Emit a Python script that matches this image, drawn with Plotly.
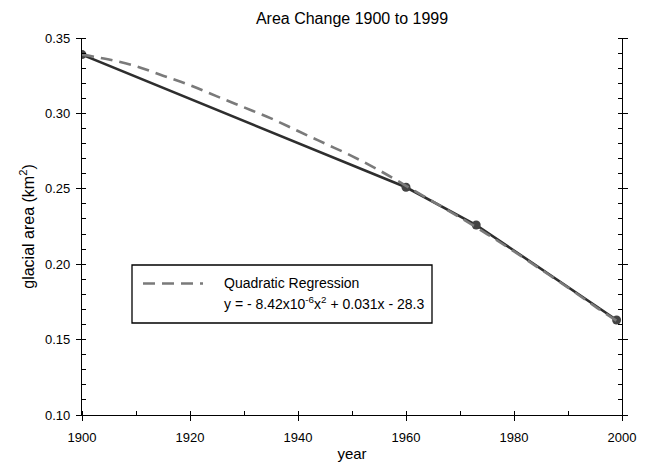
import plotly.graph_objects as go

# Observed data
years = [1900, 1960, 1973, 1999]
area = [0.339, 0.251, 0.226, 0.163]

# Quadratic regression curve
fit_years = [1900, 1905, 1910, 1915, 1920, 1925, 1930, 1935, 1940, 1945, 1950,
             1955, 1960, 1965, 1970, 1975, 1980, 1985, 1990, 1995, 1999]
fit_area = [0.339, 0.3357, 0.3313, 0.3250, 0.3187, 0.3113, 0.3040, 0.2967, 0.2883,
            0.2800, 0.2717, 0.2623, 0.2520, 0.2415, 0.2310, 0.2200, 0.2085, 0.1965,
            0.1845, 0.1720, 0.1625]

title_text = "Area Change 1900 to 1999"
x_title = "year"
y_title = "glacial area (km<sup>2</sup>)"
legend_line1 = "Quadratic Regression"
legend_line2 = "y = - 8.42x10<sup>-6</sup>x<sup>2</sup> + 0.031x - 28.3"

W, H = 647, 462
L, R, T, B = 82, 622, 38, 415

def px(x):
    return (x - L) / (R - L)

def py(y):
    return (B - y) / (B - T)

font_family = "Liberation Sans, Arial, sans-serif"

fig = go.Figure()
fig.add_trace(go.Scatter(x=years, y=area, mode="lines+markers",
                         line=dict(color="#2e2e2e", width=2.6),
                         marker=dict(color="#444444", size=9),
                         showlegend=False))
fig.add_trace(go.Scatter(x=fit_years, y=fit_area, mode="lines",
                         line=dict(color="#7a7a7a", width=2.6, dash="12px,7px", shape="spline"),
                         showlegend=False))

# Legend box (manual)
fig.add_shape(type="rect", xref="paper", yref="paper",
              x0=px(132), x1=px(432), y0=py(323), y1=py(265),
              line=dict(color="black", width=1.3), fillcolor="white", layer="above")
fig.add_shape(type="line", xref="paper", yref="paper",
              x0=px(143), x1=px(203), y0=py(283.5), y1=py(283.5),
              line=dict(color="#7a7a7a", width=2.6, dash="12px,7px"))
fig.add_annotation(xref="paper", yref="paper", x=px(222), y=py(283),
                   text=legend_line1, showarrow=False, xanchor="left", yanchor="middle",
                   font=dict(size=14, color="black", family=font_family))
fig.add_annotation(xref="paper", yref="paper", x=px(222), y=py(303),
                   text=legend_line2, showarrow=False, xanchor="left", yanchor="middle",
                   font=dict(size=14, color="black", family=font_family))

fig.update_layout(
    width=W, height=H,
    margin=dict(l=L, r=W - R, t=T, b=H - B),
    paper_bgcolor="white", plot_bgcolor="white",
    font=dict(family=font_family, color="black", size=13),
    title=dict(text=title_text, x=px(352), xref="paper", y=1 - 18 / H, yanchor="middle",
               xanchor="center", font=dict(size=16, color="black", family=font_family)),
    xaxis=dict(range=[1900, 2000], dtick=20, tick0=1900, showgrid=False, zeroline=False,
               showline=True, linecolor="black", linewidth=1.3, automargin=False,
               ticks="outside", ticklen=5, tickcolor="black", tickwidth=1.3,
               ticklabelstandoff=5,
               minor=dict(dtick=10, ticks="inside", ticklen=4, tickcolor="black", tickwidth=1.3,
                          showgrid=False),
               title=dict(text=x_title, font=dict(size=15), standoff=6),
               tickfont=dict(size=13)),
    yaxis=dict(range=[0.10, 0.35], dtick=0.05, tick0=0.10, tickformat=".2f", showgrid=False,
               zeroline=False, showline=True, linecolor="black", linewidth=1.3, mirror="ticks",
               automargin=False,
               ticks="outside", ticklen=5, tickcolor="black", tickwidth=1.3,
               ticklabelstandoff=3,
               minor=dict(dtick=0.01, ticks="inside", ticklen=4, tickcolor="black", tickwidth=1.3,
                          showgrid=False),
               title=dict(text=y_title, font=dict(size=16), standoff=6),
               tickfont=dict(size=13)),
)

fig.write_html("out.html")
